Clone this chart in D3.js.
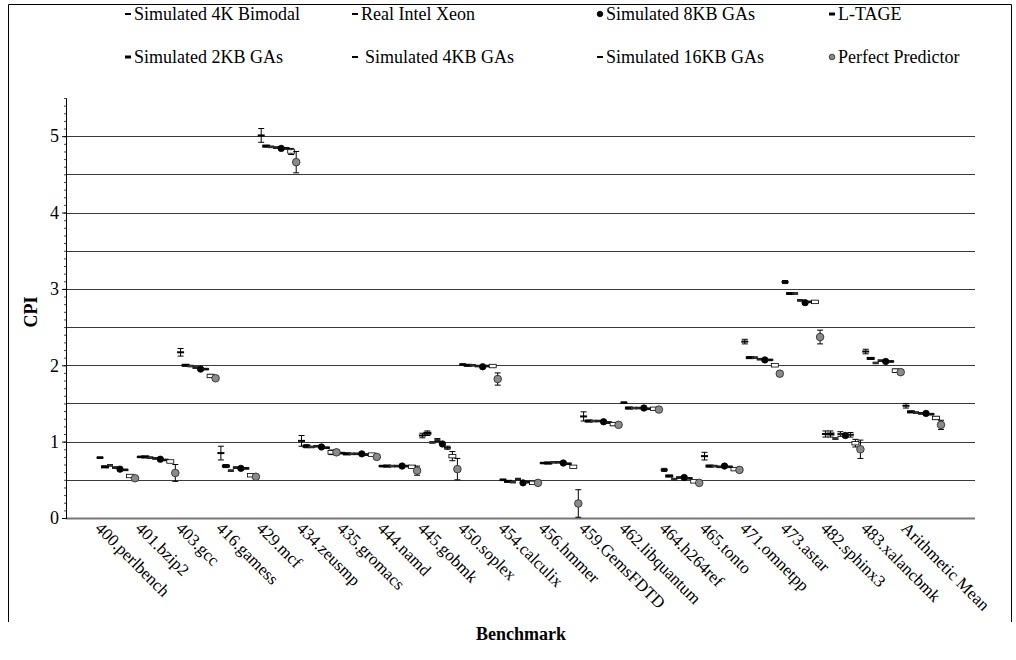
<!DOCTYPE html>
<html>
<head>
<meta charset="utf-8">
<script src="https://cdn.jsdelivr.net/npm/d3@7"></script>
<style>
  body { margin: 0; background: #fff; }
</style>
</head>
<body>
<script>
var categories = ["400.perlbench", "401.bzip2", "403.gcc", "416.gamess", "429.mcf", "434.zeusmp",
  "435.gromacs", "444.namd", "445.gobmk", "450.soplex", "454.calculix", "456.hmmer",
  "459.GemsFDTD", "462.libquantum", "464.h264ref", "465.tonto", "471.omnetpp", "473.astar",
  "482.sphinx3", "483.xalancbmk", "Arithmetic Mean"];

var seriesNames = ["Simulated 4K Bimodal", "Simulated 2KB GAs", "Real Intel Xeon", "Simulated 4KB GAs",
  "Simulated 8KB GAs", "Simulated 16KB GAs", "L-TAGE", "Perfect Predictor"];

var bimodal4k = [0.79, 0.80, 2.17, 0.85, 5.01, 1.01, 0.85, 0.68, 1.08, 2.01, 0.50, 0.72, 1.33, 1.51, 0.63, 0.81, 2.31, 3.09, 1.10, 2.18, 1.47];
var gas2kb    = [0.67, 0.80, 2.00, 0.68, 4.87, 0.94, 0.84, 0.68, 1.11, 2.00, 0.48, 0.72, 1.27, 1.44, 0.55, 0.68, 2.10, 2.94, 1.10, 2.09, 1.39];
var xeon      = [0.69, 0.79, 1.99, 0.62, 4.86, 0.93, 0.84, 0.68, 0.99, 2.00, 0.47, 0.73, 1.27, 1.44, 0.51, 0.68, 2.10, 2.94, 1.04, 2.03, 1.38];
var gas4kb    = [0.66, 0.78, 1.97, 0.66, 4.85, 0.94, 0.84, 0.68, 1.02, 1.99, 0.51, 0.73, 1.27, 1.44, 0.53, 0.67, 2.08, 2.85, 1.10, 2.06, 1.37];
var gas8kb    = [0.64, 0.77, 1.95, 0.65, 4.84, 0.93, 0.84, 0.68, 0.97, 1.98, 0.46, 0.72, 1.26, 1.44, 0.53, 0.68, 2.07, 2.82, 1.08, 2.05, 1.37];
var gas16kb   = [0.63, 0.76, 1.95, 0.65, 4.84, 0.92, 0.83, 0.68, 0.92, 1.99, 0.47, 0.71, 1.25, 1.43, 0.52, 0.67, 2.07, 2.83, 1.09, 2.05, 1.36];
var ltage     = [0.55, 0.74, 1.86, 0.56, 4.80, 0.86, 0.83, 0.67, 0.81, 1.99, 0.46, 0.67, 1.23, 1.43, 0.48, 0.64, 2.00, 2.83, 0.98, 1.93, 1.31];
var perfect   = [0.52, 0.59, 1.83, 0.54, 4.66, 0.86, 0.80, 0.62, 0.64, 1.82, 0.46, 0.19, 1.22, 1.42, 0.46, 0.63, 1.89, 2.37, 0.90, 1.91, 1.22];

// error bar half widths
var bimodal4kErr = [0.01, 0.01, 0.05, 0.09, 0.09, 0.07, 0.01, 0.01, 0.03, 0.01, 0.01, 0.01, 0.06, 0.01, 0.02, 0.05, 0.03, 0.02, 0.04, 0.03, 0.03];
var gas2kbErr    = [0.01, 0.01, 0.01, 0.02, 0.01, 0.02, 0.01, 0.01, 0.03, 0.01, 0.01, 0.01, 0.01, 0.01, 0.01, 0.01, 0.01, 0.01, 0.04, 0.01, 0.01];
var xeonErr      = [0.01, 0.01, 0.01, 0.01, 0.01, 0.01, 0.01, 0.01, 0.01, 0.01, 0.01, 0.01, 0.01, 0.01, 0.01, 0.01, 0.01, 0.01, 0.01, 0.01, 0.01];
var gas4kbErr    = [0.01, 0.01, 0.01, 0.01, 0.01, 0.01, 0.01, 0.01, 0.02, 0.01, 0.01, 0.01, 0.01, 0.01, 0.01, 0.01, 0.01, 0.01, 0.03, 0.01, 0.01];
var gas8kbErr    = [0.01, 0.01, 0.01, 0.01, 0.01, 0.01, 0.01, 0.01, 0.01, 0.01, 0.01, 0.01, 0.01, 0.01, 0.01, 0.01, 0.01, 0.01, 0.02, 0.01, 0.01];
var gas16kbErr   = [0.01, 0.01, 0.01, 0.01, 0.01, 0.01, 0.01, 0.01, 0.02, 0.01, 0.01, 0.01, 0.01, 0.01, 0.01, 0.01, 0.01, 0.01, 0.03, 0.01, 0.01];
var ltageErr     = [0.01, 0.01, 0.02, 0.01, 0.04, 0.03, 0.01, 0.01, 0.06, 0.01, 0.01, 0.01, 0.02, 0.01, 0.01, 0.01, 0.01, 0.01, 0.05, 0.02, 0.02];
var perfectErr   = [0.01, 0.11, 0.02, 0.01, 0.14, 0.03, 0.01, 0.06, 0.14, 0.08, 0.01, 0.18, 0.02, 0.01, 0.01, 0.01, 0.03, 0.09, 0.12, 0.01, 0.06];

var yTicks = [0, 1, 2, 3, 4, 5];

var seriesValues = [bimodal4k, gas2kb, xeon, gas4kb, gas8kb, gas16kb, ltage, perfect];
var seriesErrors = [bimodal4kErr, gas2kbErr, xeonErr, gas4kbErr, gas8kbErr, gas16kbErr, ltageErr, perfectErr];

// marker look for each series
var markerStyle = [
  { shape: "dash", w: 7, h: 2, fill: "#000", stroke: "none" },
  { shape: "dash", w: 8, h: 3, fill: "#000", stroke: "none" },
  { shape: "dash", w: 6, h: 2, fill: "#333", stroke: "none" },
  { shape: "dash", w: 6, h: 2, fill: "#222", stroke: "none" },
  { shape: "circle", r: 3.2, fill: "#000", stroke: "#000" },
  { shape: "dash", w: 7, h: 2, fill: "#111", stroke: "none" },
  { shape: "dash", w: 7, h: 3.5, fill: "#fff", stroke: "#000" },
  { shape: "circle", r: 3.8, fill: "#8a8a8a", stroke: "#222" }
];

var serif = "'Liberation Serif', 'Times New Roman', Times, 'DejaVu Serif', serif";

var width = 1016, height = 660;
var plotLeft = 66, plotRight = 975, plotTop = 98, plotBottom = 518;

var svg = d3.select("body").append("svg")
  .attr("width", width)
  .attr("height", height)
  .attr("font-family", serif);

// outer frame
svg.append("path")
  .attr("d", "M8.5,622 V4.5 H1011.5 V622")
  .attr("fill", "none")
  .attr("stroke", "#000")
  .attr("stroke-width", 1);

var y = d3.scaleLinear().domain([0, 5.5]).range([plotBottom, plotTop]);
var x = d3.scaleBand().domain(categories).range([97.5, 943.8]).padding(0);
var xs = d3.scalePoint().domain(d3.range(seriesNames.length)).range([2.5, 37.5]);

// grid lines
svg.append("g").selectAll("line")
  .data(d3.range(0.5, 5.01, 0.5))
  .enter().append("line")
  .attr("x1", plotLeft).attr("x2", plotRight)
  .attr("y1", function(d) { return Math.round(y(d)) + 0.5; })
  .attr("y2", function(d) { return Math.round(y(d)) + 0.5; })
  .attr("stroke", "#3a3a3a")
  .attr("stroke-width", 1.1);

// x axis line
svg.append("line")
  .attr("x1", plotLeft).attr("x2", plotRight)
  .attr("y1", plotBottom + 0.5).attr("y2", plotBottom + 0.5)
  .attr("stroke", "#777").attr("stroke-width", 2);

// y axis, minor then major ticks
var minor = svg.append("g")
  .attr("transform", "translate(" + plotLeft + ",0)")
  .call(d3.axisLeft(y).tickValues(d3.range(0, 5.51, 0.1)).tickSize(2).tickFormat(""));
minor.select(".domain").attr("stroke", "#000");
minor.selectAll(".tick line").attr("stroke", "#444");

var major = svg.append("g")
  .attr("transform", "translate(" + plotLeft + ",0)")
  .call(d3.axisLeft(y).tickValues(yTicks).tickSize(4).tickPadding(3).tickFormat(d3.format("d")));
major.attr("font-family", serif).attr("font-size", 18);
major.select(".domain").remove();

svg.append("text")
  .attr("transform", "translate(37,312) rotate(-90)")
  .attr("text-anchor", "middle")
  .attr("font-size", 18)
  .attr("font-weight", "bold")
  .text("CPI");

// category labels
svg.append("g").selectAll("text")
  .data(categories)
  .enter().append("text")
  .attr("transform", function(d) { return "translate(" + (x(d) + 1) + ",525) rotate(45)"; })
  .attr("dy", "0.35em")
  .attr("font-size", 17)
  .text(function(d) { return d; });

svg.append("text")
  .attr("x", 521).attr("y", 640)
  .attr("text-anchor", "middle")
  .attr("font-size", 18)
  .attr("font-weight", "bold")
  .text("Benchmark");

function drawMarker(g, st, cx, cy) {
  if (st.shape === "circle") {
    g.append("circle").attr("cx", cx).attr("cy", cy).attr("r", st.r)
      .attr("fill", st.fill).attr("stroke", st.stroke).attr("stroke-width", 0.8);
  } else {
    g.append("rect").attr("x", cx - st.w / 2).attr("y", cy - st.h / 2)
      .attr("width", st.w).attr("height", st.h)
      .attr("fill", st.fill).attr("stroke", st.stroke).attr("stroke-width", 0.8);
  }
}

// points with error bars
seriesValues.forEach(function(vals, si) {
  var g = svg.append("g").attr("class", "series-" + si);
  vals.forEach(function(v, ci) {
    var cx = x(categories[ci]) + xs(si);
    var e = seriesErrors[si][ci];
    var y0 = y(v - e), y1 = y(v + e);
    g.append("line").attr("x1", cx).attr("x2", cx).attr("y1", y0).attr("y2", y1)
      .attr("stroke", "#000").attr("stroke-width", 1);
    [y0, y1].forEach(function(yy) {
      g.append("line").attr("x1", cx - 3).attr("x2", cx + 3).attr("y1", yy).attr("y2", yy)
        .attr("stroke", "#000").attr("stroke-width", 1);
    });
    drawMarker(g, markerStyle[si], cx, y(v));
  });
});

// legend, four columns, filled column by column
var legendX = [126, 353, 598, 830];
var legendY = [14, 57];
var legend = svg.append("g");
seriesNames.forEach(function(name, i) {
  var lx = legendX[Math.floor(i / 2)], ly = legendY[i % 2];
  var st = markerStyle[i];
  if (st.shape === "circle") {
    drawMarker(legend, { shape: "circle", r: 2.8, fill: st.fill, stroke: st.stroke }, lx + 2, ly);
  } else {
    drawMarker(legend, { shape: "dash", w: 6, h: st.h > 2.5 ? 3 : 2, fill: "#000", stroke: "none" }, lx + 2, ly);
  }
  legend.append("text")
    .attr("x", lx + (name === "Simulated 4KB GAs" ? 12 : 8))
    .attr("y", ly)
    .attr("dy", "0.35em")
    .attr("font-size", 18)
    .text(name);
});
</script>
</body>
</html>
